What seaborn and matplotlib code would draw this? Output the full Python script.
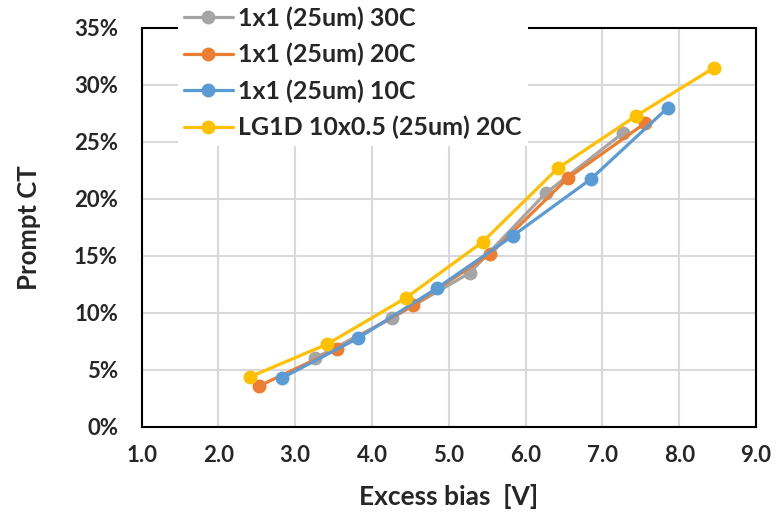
import matplotlib
matplotlib.use("Agg")
import matplotlib.pyplot as plt
import seaborn as sns
import pandas as pd
from matplotlib.ticker import FuncFormatter, MultipleLocator

# ---- data ----
labels = ["1x1 (25um) 30C", "1x1 (25um) 20C", "1x1 (25um) 10C", "LG1D 10x0.5 (25um) 20C"]
colors = ["#A5A5A5", "#ED7D31", "#5B9BD5", "#FFC000"]

x_30C = [3.26, 4.26, 5.27, 6.26, 7.27]
y_30C = [6.05, 9.56, 13.5, 20.5, 25.8]

x_20C = [2.53, 3.55, 4.54, 5.54, 6.55, 7.56]
y_20C = [3.6, 6.84, 10.7, 15.18, 21.84, 26.67]

x_10C = [2.83, 3.82, 4.85, 5.83, 6.85, 7.85]
y_10C = [4.3, 7.8, 12.2, 16.75, 21.75, 28.0]

x_LG = [2.41, 3.42, 4.44, 5.44, 6.42, 7.44, 8.45]
y_LG = [4.39, 7.28, 11.32, 16.23, 22.7, 27.3, 31.5]

xs = [x_30C, x_20C, x_10C, x_LG]
ys = [y_30C, y_20C, y_10C, y_LG]

frames = []
for lab, xv, yv in zip(labels, xs, ys):
    frames.append(pd.DataFrame({"x": xv, "y": [v / 100 for v in yv], "series": lab}))
df = pd.concat(frames, ignore_index=True)

sns.set_style("white")
plt.rcParams["font.family"] = ["Lato", "DejaVu Sans"]
plt.rcParams["font.weight"] = "bold"

fig = plt.figure(figsize=(7.79, 5.19), dpi=100)
ax = fig.add_axes([0.1818, 0.1773, 0.7887, 0.7688])

sns.lineplot(data=df, x="x", y="y", hue="series", hue_order=labels,
             palette=dict(zip(labels, colors)), sort=False, estimator=None,
             marker="o", markersize=10, markeredgewidth=0, linewidth=2.3,
             ax=ax, legend=False)

ax.set_xlim(1, 9)
ax.set_ylim(0, 0.35)
ax.xaxis.set_major_locator(MultipleLocator(1))
ax.yaxis.set_major_locator(MultipleLocator(0.05))
ax.xaxis.set_major_formatter(FuncFormatter(lambda v, p: f"{v:.1f}"))
ax.yaxis.set_major_formatter(FuncFormatter(lambda v, p: f"{v*100:.0f}%"))

ax.grid(True, color="#D9D9D9", linewidth=1.5)
ax.set_axisbelow(True)
for s in ax.spines.values():
    s.set_visible(True)
    s.set_color("black")
    s.set_linewidth(1.5)

ax.tick_params(axis="x", direction="in", length=6, width=2.0, color="black",
               pad=13, labelsize=16)
ax.tick_params(axis="y", length=0, pad=17, labelsize=16)
ax.tick_params(top=False, right=False)
for t in ax.get_xticklabels() + ax.get_yticklabels():
    t.set_fontweight("bold")

ax.set_xlabel("Excess bias  [V]", fontsize=19, fontweight="bold", labelpad=13)
ax.set_ylabel("Prompt CT", fontsize=18.5, fontweight="bold", labelpad=24)

handles = [plt.Line2D([], [], color=c, marker="o", markersize=10,
                      markeredgewidth=0, linewidth=2.3) for c in colors]
leg = ax.legend(handles, labels, loc="upper left",
                bbox_to_anchor=(0.228, 1.0), bbox_transform=fig.transFigure,
                frameon=True, facecolor="white", edgecolor="none", framealpha=1,
                fancybox=False, fontsize=18, handlelength=1.95, handletextpad=0.22,
                labelspacing=0.52, borderpad=0.25, borderaxespad=0)
for t in leg.get_texts():
    t.set_fontweight("bold")
leg.set_zorder(10)

fig.savefig("out.png", dpi=100)
